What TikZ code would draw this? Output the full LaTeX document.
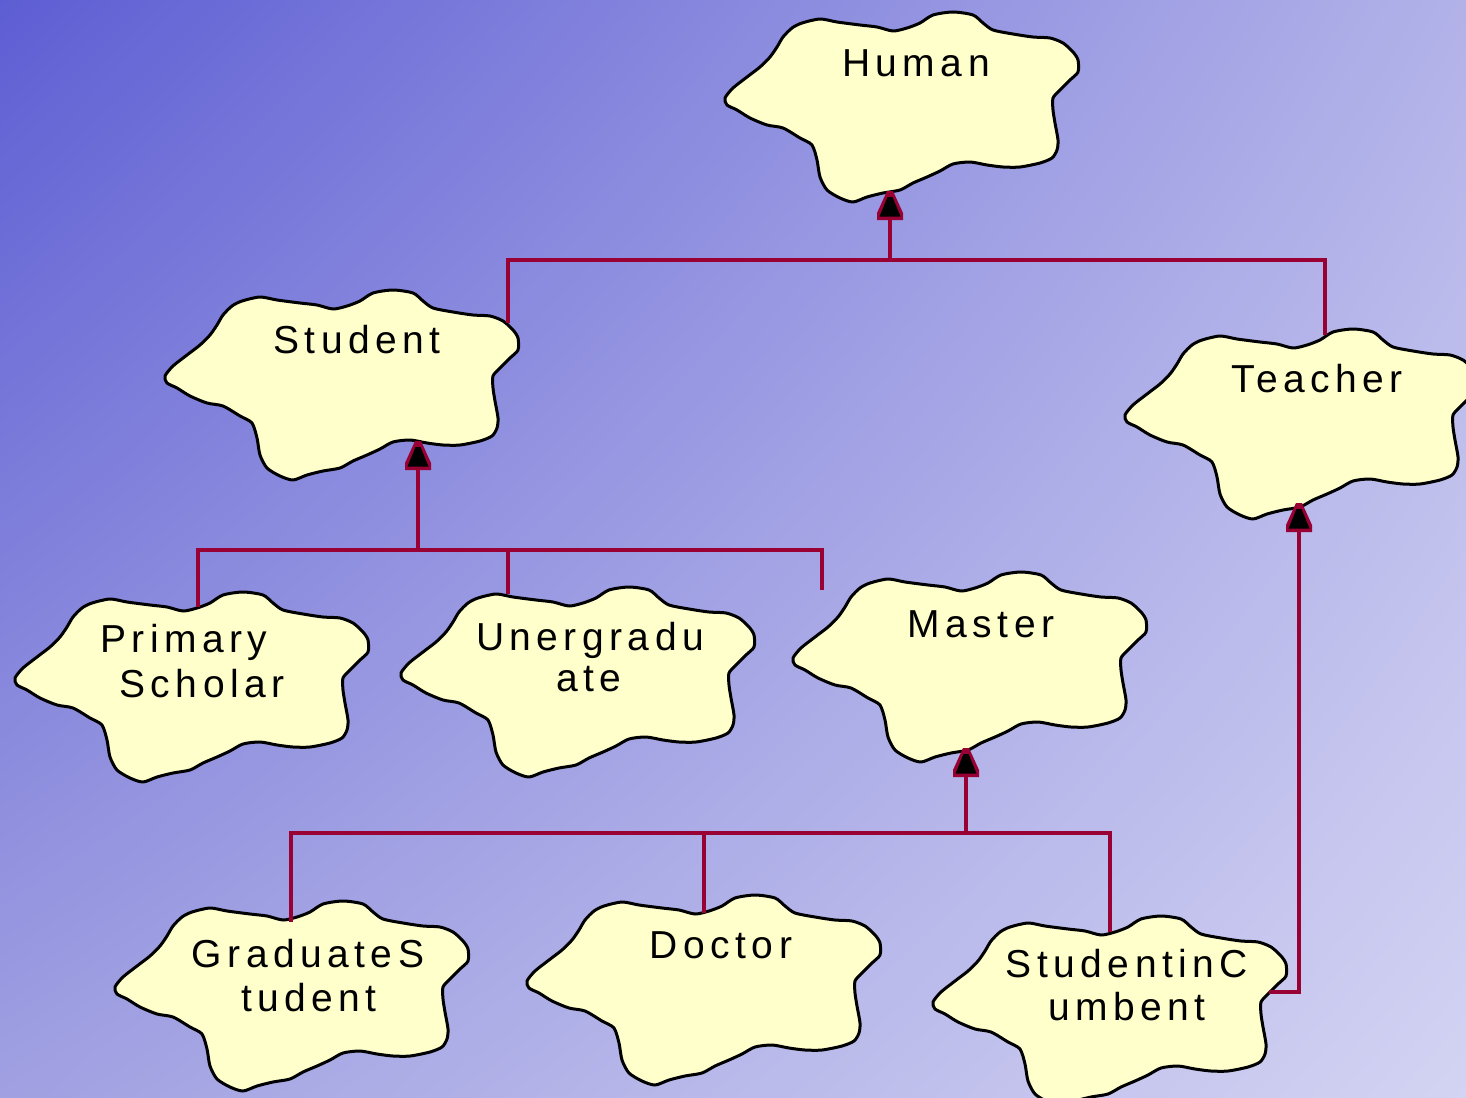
\documentclass[tikz,border=0pt]{standalone}
\usepackage{fontspec}
\usetikzlibrary{shadings}
\setmainfont{Liberation Sans}[LetterSpace=14]
\definecolor{bgA}{RGB}{94,94,212}
\definecolor{bgB}{RGB}{178,178,233}
\definecolor{bgC}{RGB}{160,160,226}
\definecolor{bgD}{RGB}{211,211,243}
\definecolor{cloudfill}{RGB}{255,255,204}
\definecolor{connred}{RGB}{153,0,51}
\tikzset{
  cloudshape/.style={fill=cloudfill, draw=black, line width=1.5pt, line join=round},
  lbl/.style={anchor=base, inner sep=0pt, font=\fontsize{19.5}{22}\selectfont},
  conn/.style={draw=connred, line width=2pt, line join=miter},
  cloudpic/.pic={
    \path[cloudshape] plot[smooth cycle, tension=0.45] coordinates {
      (0,86) (8,76) (22,65) (35,55) (45,45) (52,35) (58,25) (67,16) (77,11)
      (95,7) (112,10) (135,13) (152,15) (168,19) (182,16) (195,11) (208,3)
      (228,0) (248,3) (258,11) (268,18) (288,22) (308,25) (325,26) (338,31)
      (348,40) (353,48) (353,60) (345,68) (335,78) (328,86) (328,98) (330,111)
      (333,128) (332,138) (327,146) (315,151) (295,155) (278,155) (262,153)
      (245,150) (228,152) (215,159) (202,165) (188,171) (175,178) (158,181)
      (142,185) (128,190) (115,186) (102,178) (95,165) (92,148) (87,133)
      (75,126) (58,116) (42,113) (25,106) (12,98) (2,93)};
  },
  generalize/.pic={
    \fill[connred] (-3,0) -- (3,0) -- (13,22) -- (13,29) -- (-13,29) -- (-13,22) -- cycle;
    \fill[black] (-2.5,6) -- (2.5,6) -- (10.5,25.5) -- (-10.5,25.5) -- cycle;
  }
}
\begin{document}
\begin{tikzpicture}[x=0.5pt,y=-0.5pt]
  % backdrop
  \useasboundingbox (0,0) rectangle (1466,1097);
  \shade[upper left=bgA, upper right=bgB, lower left=bgC, lower right=bgD]
    (0,0) rectangle (1466,1097);
  \clip (0,0) rectangle (1466,1097);

  % clouds
  \pic at (725,12)  {cloudpic};
  \pic at (165,290) {cloudpic};
  \pic at (1125,329) {cloudpic};
  \pic at (15,592)  {cloudpic};
  \pic at (401,587) {cloudpic};
  \pic at (793,572) {cloudpic};
  \pic at (115,901) {cloudpic};
  \pic at (527,895) {cloudpic};
  \pic at (933,916) {cloudpic};

  % class names
  \node[lbl] (human)        at (916,77)   {Human};
  \node[lbl] (student)      at (357,353)  {Student};
  \node[lbl] (teacher)      at (1317,392) {Teacher};
  \node[lbl] (primary)      at (184,652)  {Primary};
  \node[lbl] (primary-2)    at (202,697)  {Scholar};
  \node[lbl] (unergradu)    at (590,650)  {Unergradu};
  \node[lbl] (unergradu-2)  at (589,691)  {ate};
  \node[lbl] (master)       at (981,637)  {Master};
  \node[lbl] (graduates)    at (308,967)  {GraduateS};
  \node[lbl] (graduates-2)  at (309,1011) {tudent};
  \node[lbl] (doctor)       at (721,958)  {Doctor};
  \node[lbl] (studentinc)   at (1127,977) {StudentinC};
  \node[lbl] (studentinc-2) at (1127,1020){umbent};

  % attachment points
  \coordinate (human-tip)        at (890,191);
  \coordinate (human-bus)        at (890,260);
  \coordinate (student-top)      at (508,323);
  \coordinate (teacher-top)      at (1325,335);
  \coordinate (student-tip)      at (418,441);
  \coordinate (student-bus)      at (418,550);
  \coordinate (primary-top)      at (198,607);
  \coordinate (unergradu-top)    at (508,594);
  \coordinate (master-stub)      at (822,590);
  \coordinate (teacher-tip)      at (1299,503);
  \coordinate (studentinc-right) at (1269,992);
  \coordinate (master-tip)       at (966,748);
  \coordinate (master-bus)       at (966,833);
  \coordinate (graduates-top)    at (291,922);
  \coordinate (doctor-top)       at (704,913);
  \coordinate (studentinc-top)   at (1110,932);

  % Human <- Student, Teacher
  \draw[conn] (human-tip) -- (human-bus);
  \draw[conn] (student-top) -- (student-top |- human-bus)
              -- (teacher-top |- human-bus) -- (teacher-top);
  \pic at (human-tip) {generalize};

  % Student <- Primary Scholar, Unergraduate, Master
  \draw[conn] (student-tip) -- (student-bus);
  \draw[conn] (primary-top) -- (primary-top |- student-bus)
              -- (master-stub |- student-bus) -- (master-stub);
  \draw[conn] (unergradu-top) -- (unergradu-top |- student-bus);
  \pic at (student-tip) {generalize};

  % Teacher <- StudentinCumbent
  \draw[conn] (teacher-tip) |- (studentinc-right);
  \pic at (teacher-tip) {generalize};

  % Master <- GraduateStudent, Doctor, StudentinCumbent
  \draw[conn] (master-tip) -- (master-bus);
  \draw[conn] (graduates-top) -- (graduates-top |- master-bus)
              -- (studentinc-top |- master-bus) -- (studentinc-top);
  \draw[conn] (doctor-top) -- (doctor-top |- master-bus);
  \pic at (master-tip) {generalize};
\end{tikzpicture}
\end{document}
